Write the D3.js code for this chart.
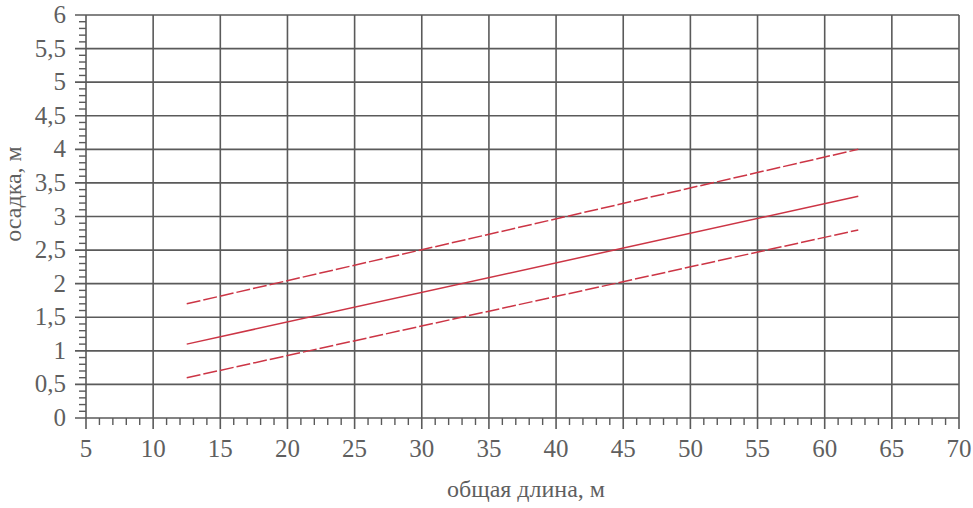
<!DOCTYPE html>
<html><head><meta charset="utf-8">
<script src="https://cdn.jsdelivr.net/npm/d3@7"></script>
<style>body{margin:0;background:#fff}svg{display:block}</style>
</head><body>
<script>
const lengths = [12.5, 62.5];
const upperDraft = [1.7, 4.0];
const meanDraft = [1.1, 3.3];
const lowerDraft = [0.6, 2.8];
const xTicks = [5,10,15,20,25,30,35,40,45,50,55,60,65,70];
const yTicks = [0,0.5,1,1.5,2,2.5,3,3.5,4,4.5,5,5.5,6];
const xLabel = "общая длина, м";
const yLabel = "осадка, м";

const W = 973, H = 508;
const svg = d3.select("body").append("svg").attr("width", W).attr("height", H);
const x = d3.scaleLinear().domain([5,70]).range([86,959]);
const y = d3.scaleLinear().domain([0,6]).range([418,15]);
const grid = "#5a5a5a", txt = "#5f5f5f", font = "'Liberation Serif','Times New Roman',serif";

// horizontal grid
svg.append("g").selectAll("line").data(yTicks).join("line")
  .attr("x1", 75).attr("x2", x(70)).attr("y1", d=>y(d)).attr("y2", d=>y(d))
  .attr("stroke", grid).attr("stroke-width", 1.6);
// vertical grid
svg.append("g").selectAll("line").data(xTicks).join("line")
  .attr("x1", d=>x(d)).attr("x2", d=>x(d)).attr("y1", y(6)).attr("y2", 429)
  .attr("stroke", grid).attr("stroke-width", 1.6);
// minor ticks
const xMinor = d3.range(5,70,1).filter(v=>v%5!==0);
svg.append("g").selectAll("line").data(xMinor).join("line")
  .attr("x1", d=>x(d)).attr("x2", d=>x(d)).attr("y1", y(0)).attr("y2", 425)
  .attr("stroke", grid).attr("stroke-width", 1.4);
const yMinor = d3.range(0,60,1).filter(v=>v%5!==0).map(v=>v/10);
svg.append("g").selectAll("line").data(yMinor).join("line")
  .attr("x1", 79).attr("x2", x(5)).attr("y1", d=>y(d)).attr("y2", d=>y(d))
  .attr("stroke", grid).attr("stroke-width", 1.4);

// tick labels
svg.append("g").selectAll("text").data(xTicks).join("text")
  .attr("x", d=>x(d)).attr("y", 457).attr("text-anchor","middle")
  .attr("font-family", font).attr("font-size", 25).attr("fill", txt)
  .text(d=>String(d));
svg.append("g").selectAll("text").data(yTicks).join("text")
  .attr("x", 66).attr("y", d=>y(d)+8).attr("text-anchor","end")
  .attr("font-family", font).attr("font-size", 25).attr("fill", txt)
  .text(d=>String(d).replace(".", ","));

// axis titles
svg.append("text").attr("x", 526).attr("y", 497).attr("text-anchor","middle")
  .attr("font-family", font).attr("font-size", 24).attr("fill", txt).text(xLabel);
svg.append("text").attr("transform","translate(21,194) rotate(-90)").attr("text-anchor","middle")
  .attr("font-family", font).attr("font-size", 24).attr("fill", txt).text(yLabel);

// data lines
const line = d3.line().x(d=>x(d[0])).y(d=>y(d[1]));
const series = [
  {v: upperDraft, dash: "14,3"},
  {v: meanDraft, dash: null},
  {v: lowerDraft, dash: "14,3"}
];
series.forEach(s=>{
  svg.append("path").datum(lengths.map((l,i)=>[l, s.v[i]])).attr("d", line)
    .attr("fill","none").attr("stroke","#cc3545").attr("stroke-width",1.5)
    .attr("stroke-dasharray", s.dash);
});
</script>
</body></html>
